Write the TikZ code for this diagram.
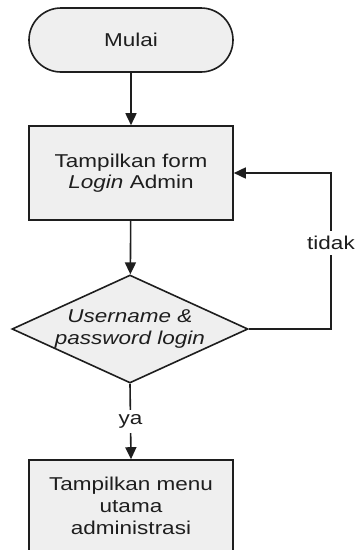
\documentclass[tikz,border=0pt]{standalone}
\usepackage{fontspec}
\setmainfont{Liberation Sans}
\usetikzlibrary{arrows.meta,shapes.geometric}
% Arial-like text, widened slightly as in the flowchart tool output
\newcommand{\hstr}[1]{\scalebox{1.21}[1]{#1}}
\definecolor{boxfill}{HTML}{EFEFEF}
\definecolor{ink}{HTML}{1E1E1E}
\begin{document}
\begin{tikzpicture}[x=1pt,y=-1pt,
  every node/.style={font=\fontsize{18.6}{21.5}\selectfont, text=ink},
  flow/.style={draw=ink, line width=1.6pt, fill=boxfill, inner sep=0pt, align=center},
  termbox/.style={flow, rectangle, rounded corners=32pt, minimum width=204pt, minimum height=64pt},
  procbox/.style={flow, rectangle, minimum width=204pt, minimum height=94pt},
  decbox/.style={flow, diamond, minimum width=236pt, minimum height=108pt},
  arr/.style={draw=ink, line width=1.6pt, -{Triangle[length=12pt,width=11pt]}},
  lab/.style={fill=white, inner xsep=1pt, inner ysep=5pt}]
\path[use as bounding box, clip] (0,0) rectangle (356,550);
\fill[white] (0,0) rectangle (356,550);

% flowchart steps
\node[termbox] (start) at (131,40) {\hstr{Mulai}};
\node[procbox] (form) at (131,173) {\hstr{Tampilkan form}\\\hstr{\textit{Login} Admin}};
\node[decbox] (check) at (130,329) {};
\node[align=center] (checktext) at (check.center) {\hstr{\textit{Username \&}}\\\hstr{\textit{password login}}};
\node[procbox, minimum height=92pt, font=\fontsize{18.6}{22}\selectfont] (menu) at (131,506)
  {\hstr{Tampilkan menu}\\\hstr{utama}\\\hstr{administrasi}};

% connectors
\coordinate (loop) at (331,0);
\draw[arr] (start) -- (form);
\draw[arr] (form) -- (check);
\draw[arr] (check.south) -- node[lab]{\hstr{ya}} (menu.north);
\draw[arr] (check.east) -- (check.east -| loop)
  -- node[lab, pos=0.55]{\hstr{tidak}} (form.east -| loop) -- (form.east);
\end{tikzpicture}
\end{document}
